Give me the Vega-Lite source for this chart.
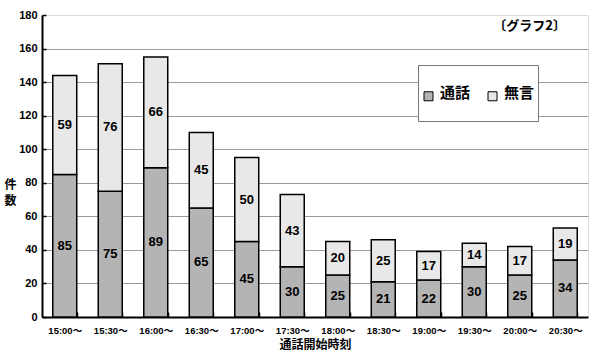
{
 "$schema": "https://vega.github.io/schema/vega-lite/v6.json",
 "width": 546, "height": 302,
 "autosize": {"type": "none"},
 "padding": {"left": 42, "top": 15, "right": 14, "bottom": 39},
 "background": "white",
 "title": {"text": "〔グラフ2〕", "anchor": "end", "frame": "group", "orient": "top", "offset": -23, "baseline": "middle", "dy": 7, "dx": -22, "fontSize": 13, "fontWeight": "bold", "font": "Noto Sans CJK JP", "color": "black"},
 "data": {"values": [
  {"time": "15:00〜", "type": "通話", "count": 85}, {"time": "15:00〜", "type": "無言", "count": 59},
  {"time": "15:30〜", "type": "通話", "count": 75}, {"time": "15:30〜", "type": "無言", "count": 76},
  {"time": "16:00〜", "type": "通話", "count": 89}, {"time": "16:00〜", "type": "無言", "count": 66},
  {"time": "16:30〜", "type": "通話", "count": 65}, {"time": "16:30〜", "type": "無言", "count": 45},
  {"time": "17:00〜", "type": "通話", "count": 45}, {"time": "17:00〜", "type": "無言", "count": 50},
  {"time": "17:30〜", "type": "通話", "count": 30}, {"time": "17:30〜", "type": "無言", "count": 43},
  {"time": "18:00〜", "type": "通話", "count": 25}, {"time": "18:00〜", "type": "無言", "count": 20},
  {"time": "18:30〜", "type": "通話", "count": 21}, {"time": "18:30〜", "type": "無言", "count": 25},
  {"time": "19:00〜", "type": "通話", "count": 22}, {"time": "19:00〜", "type": "無言", "count": 17},
  {"time": "19:30〜", "type": "通話", "count": 30}, {"time": "19:30〜", "type": "無言", "count": 14},
  {"time": "20:00〜", "type": "通話", "count": 25}, {"time": "20:00〜", "type": "無言", "count": 17},
  {"time": "20:30〜", "type": "通話", "count": 34}, {"time": "20:30〜", "type": "無言", "count": 19}
 ]},
 "transform": [
  {"stack": "count", "groupby": ["time"], "sort": [{"field": "type", "order": "descending"}], "as": ["y0", "y1"]},
  {"calculate": "(datum.y0 + datum.y1) / 2", "as": "ymid"}
 ],
 "encoding": {
  "x": {"field": "time", "type": "nominal", "sort": null,
   "scale": {"paddingInner": 0.473, "paddingOuter": 0.2365},
   "axis": {"title": "通話開始時刻", "titleFont": "Noto Sans CJK JP", "titleFontSize": 12, "titleFontWeight": "bold", "titleColor": "black", "titlePadding": 5,
    "labelFont": "Liberation Sans, Noto Sans CJK JP", "labelFontSize": 9.5, "labelFontWeight": "bold", "labelColor": "black", "labelAngle": 0, "labelPadding": 13,
    "tickBand": "extent", "tickSize": -5, "tickColor": "black", "tickWidth": 1.5, "domainColor": "black", "domainWidth": 2, "grid": false}}
 },
 "layer": [
  {"mark": {"type": "bar", "stroke": "black", "strokeWidth": 1.5},
   "encoding": {
    "y": {"field": "y0", "type": "quantitative", "title": ["件", "数"],
     "scale": {"domain": [0, 180], "nice": false},
     "axis": {"titleAngle": 0, "titleX": -32, "titleY": 169, "titleAlign": "center", "titleBaseline": "middle", "titleFontSize": 12, "titleFontWeight": "bold", "titleFont": "Noto Sans CJK JP", "titleColor": "black", "titleLineHeight": 16,
      "values": [0, 20, 40, 60, 80, 100, 120, 140, 160, 180], "labelOverlap": false,
      "labelFont": "Liberation Sans", "labelFontSize": 11, "labelFontWeight": "bold", "labelColor": "black", "labelPadding": 9,
      "ticks": true, "tickSize": -4, "tickColor": "black", "tickWidth": 1.5, "domainColor": "black", "domainWidth": 2, "gridColor": "#9a9a9a",
      "gridOpacity": {"condition": {"test": "datum.value === 180 || datum.value === 0", "value": 0}, "value": 1}}},
    "y2": {"field": "y1"},
    "color": {"field": "type", "type": "nominal",
     "scale": {"domain": ["通話", "無言"], "range": ["#b4b4b4", "#e8e8e8"]},
     "legend": {"orient": "none", "legendX": 376, "legendY": 50, "direction": "horizontal", "title": null,
      "strokeColor": "#777", "fillColor": "white", "padding": 3,
      "symbolType": "M-1,3.56L1,3.56L1,5.56L-1,5.56Z", "symbolSize": 81, "symbolStrokeColor": "black", "symbolStrokeWidth": 1,
      "labelFont": "Noto Sans CJK JP", "labelFontSize": 15, "labelFontWeight": "bold", "labelColor": "black",
      "labelExpr": "['', datum.label, '']", "labelLineHeight": 17, "columnPadding": 14, "labelOffset": 4}}
   }},
  {"mark": {"type": "text", "font": "Liberation Sans", "fontWeight": "bold", "fontSize": 13, "color": "black"},
   "encoding": {
    "y": {"field": "ymid", "type": "quantitative", "title": ["件", "数"],
     "axis": {"titleAngle": 0, "titleX": -32, "titleY": 169, "titleAlign": "center", "titleBaseline": "middle", "titleFontSize": 12, "titleFontWeight": "bold", "titleFont": "Noto Sans CJK JP", "titleColor": "black", "titleLineHeight": 16,
      "values": [0, 20, 40, 60, 80, 100, 120, 140, 160, 180], "labelOverlap": false,
      "labelFont": "Liberation Sans", "labelFontSize": 11, "labelFontWeight": "bold", "labelColor": "black", "labelPadding": 9,
      "ticks": true, "tickSize": -4, "tickColor": "black", "tickWidth": 1.5, "domainColor": "black", "domainWidth": 2, "gridColor": "#9a9a9a",
      "gridOpacity": {"condition": {"test": "datum.value === 180 || datum.value === 0", "value": 0}, "value": 1}}},
    "text": {"field": "count", "type": "quantitative"}
   }}
 ]
}
